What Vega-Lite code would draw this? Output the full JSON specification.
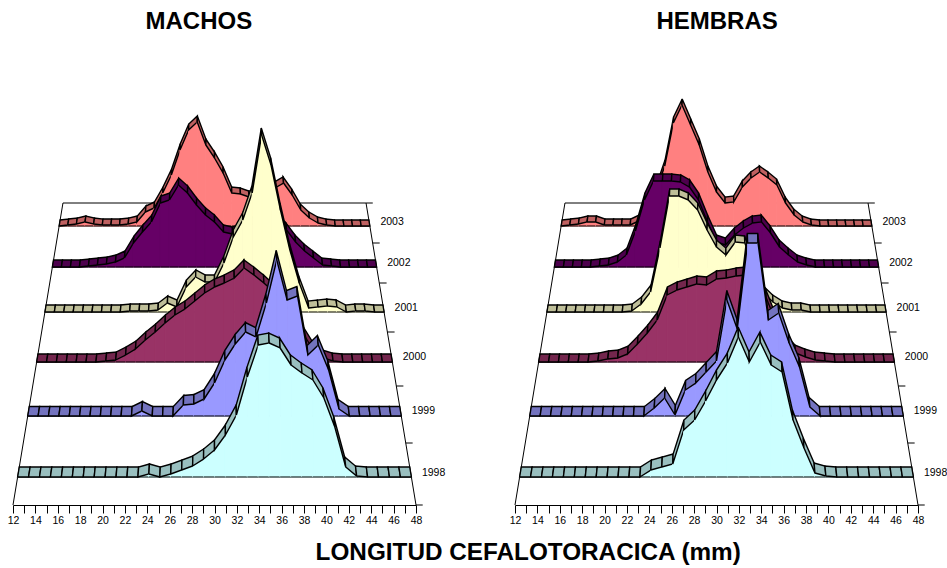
{
"$schema":"https://vega.github.io/schema/vega-lite/v6.json",
"background":"white",
"padding":{"left":7,"top":9,"right":0,"bottom":4},
"bounds":"flush",
"title":{"text":"LONGITUD CEFALOTORACICA (mm)","orient":"bottom","anchor":"middle","font":"Liberation Sans","fontSize":24.3,"fontWeight":"bold","color":"black","offset":15,"dx":51},
"config":{"axisX":{"labelOverlap":false,"labelBound":false},"header":{"labels":false,"title":null}},
"data":{"values":[
{"sexo":"MACHOS","anio":2003,"talla":12,"alto":0},{"sexo":"MACHOS","anio":2003,"talla":13,"alto":1},{"sexo":"MACHOS","anio":2003,"talla":14,"alto":2},{"sexo":"MACHOS","anio":2003,"talla":15,"alto":4},{"sexo":"MACHOS","anio":2003,"talla":16,"alto":2},{"sexo":"MACHOS","anio":2003,"talla":17,"alto":1},{"sexo":"MACHOS","anio":2003,"talla":18,"alto":1},{"sexo":"MACHOS","anio":2003,"talla":19,"alto":1},{"sexo":"MACHOS","anio":2003,"talla":20,"alto":2},{"sexo":"MACHOS","anio":2003,"talla":21,"alto":4},{"sexo":"MACHOS","anio":2003,"talla":22,"alto":14},{"sexo":"MACHOS","anio":2003,"talla":23,"alto":18},{"sexo":"MACHOS","anio":2003,"talla":24,"alto":33},{"sexo":"MACHOS","anio":2003,"talla":25,"alto":51},{"sexo":"MACHOS","anio":2003,"talla":26,"alto":76},{"sexo":"MACHOS","anio":2003,"talla":27,"alto":96},{"sexo":"MACHOS","anio":2003,"talla":28,"alto":104},{"sexo":"MACHOS","anio":2003,"talla":29,"alto":81},{"sexo":"MACHOS","anio":2003,"talla":30,"alto":68},{"sexo":"MACHOS","anio":2003,"talla":31,"alto":53},{"sexo":"MACHOS","anio":2003,"talla":32,"alto":33},{"sexo":"MACHOS","anio":2003,"talla":33,"alto":32},{"sexo":"MACHOS","anio":2003,"talla":34,"alto":29},{"sexo":"MACHOS","anio":2003,"talla":35,"alto":30},{"sexo":"MACHOS","anio":2003,"talla":36,"alto":33},{"sexo":"MACHOS","anio":2003,"talla":37,"alto":38},{"sexo":"MACHOS","anio":2003,"talla":38,"alto":43},{"sexo":"MACHOS","anio":2003,"talla":39,"alto":31},{"sexo":"MACHOS","anio":2003,"talla":40,"alto":16},{"sexo":"MACHOS","anio":2003,"talla":41,"alto":8},{"sexo":"MACHOS","anio":2003,"talla":42,"alto":3},{"sexo":"MACHOS","anio":2003,"talla":43,"alto":1},{"sexo":"MACHOS","anio":2003,"talla":44,"alto":0},{"sexo":"MACHOS","anio":2003,"talla":45,"alto":0},{"sexo":"MACHOS","anio":2003,"talla":46,"alto":0},{"sexo":"MACHOS","anio":2003,"talla":47,"alto":0},{"sexo":"MACHOS","anio":2003,"talla":48,"alto":0},
{"sexo":"MACHOS","anio":2002,"talla":12,"alto":0},{"sexo":"MACHOS","anio":2002,"talla":13,"alto":0},{"sexo":"MACHOS","anio":2002,"talla":14,"alto":0},{"sexo":"MACHOS","anio":2002,"talla":15,"alto":0},{"sexo":"MACHOS","anio":2002,"talla":16,"alto":1},{"sexo":"MACHOS","anio":2002,"talla":17,"alto":2},{"sexo":"MACHOS","anio":2002,"talla":18,"alto":3},{"sexo":"MACHOS","anio":2002,"talla":19,"alto":5},{"sexo":"MACHOS","anio":2002,"talla":20,"alto":9},{"sexo":"MACHOS","anio":2002,"talla":21,"alto":24},{"sexo":"MACHOS","anio":2002,"talla":22,"alto":35},{"sexo":"MACHOS","anio":2002,"talla":23,"alto":45},{"sexo":"MACHOS","anio":2002,"talla":24,"alto":64},{"sexo":"MACHOS","anio":2002,"talla":25,"alto":67},{"sexo":"MACHOS","anio":2002,"talla":26,"alto":82},{"sexo":"MACHOS","anio":2002,"talla":27,"alto":74},{"sexo":"MACHOS","anio":2002,"talla":28,"alto":62},{"sexo":"MACHOS","anio":2002,"talla":29,"alto":52},{"sexo":"MACHOS","anio":2002,"talla":30,"alto":45},{"sexo":"MACHOS","anio":2002,"talla":31,"alto":35},{"sexo":"MACHOS","anio":2002,"talla":32,"alto":33},{"sexo":"MACHOS","anio":2002,"talla":33,"alto":36},{"sexo":"MACHOS","anio":2002,"talla":34,"alto":42},{"sexo":"MACHOS","anio":2002,"talla":35,"alto":46},{"sexo":"MACHOS","anio":2002,"talla":36,"alto":50},{"sexo":"MACHOS","anio":2002,"talla":37,"alto":46},{"sexo":"MACHOS","anio":2002,"talla":38,"alto":37},{"sexo":"MACHOS","anio":2002,"talla":39,"alto":25},{"sexo":"MACHOS","anio":2002,"talla":40,"alto":16},{"sexo":"MACHOS","anio":2002,"talla":41,"alto":9},{"sexo":"MACHOS","anio":2002,"talla":42,"alto":2},{"sexo":"MACHOS","anio":2002,"talla":43,"alto":1},{"sexo":"MACHOS","anio":2002,"talla":44,"alto":0},{"sexo":"MACHOS","anio":2002,"talla":45,"alto":0},{"sexo":"MACHOS","anio":2002,"talla":46,"alto":0},{"sexo":"MACHOS","anio":2002,"talla":47,"alto":0},{"sexo":"MACHOS","anio":2002,"talla":48,"alto":0},
{"sexo":"MACHOS","anio":2001,"talla":12,"alto":0},{"sexo":"MACHOS","anio":2001,"talla":13,"alto":0},{"sexo":"MACHOS","anio":2001,"talla":14,"alto":0},{"sexo":"MACHOS","anio":2001,"talla":15,"alto":0},{"sexo":"MACHOS","anio":2001,"talla":16,"alto":0},{"sexo":"MACHOS","anio":2001,"talla":17,"alto":0},{"sexo":"MACHOS","anio":2001,"talla":18,"alto":0},{"sexo":"MACHOS","anio":2001,"talla":19,"alto":0},{"sexo":"MACHOS","anio":2001,"talla":20,"alto":0},{"sexo":"MACHOS","anio":2001,"talla":21,"alto":1},{"sexo":"MACHOS","anio":2001,"talla":22,"alto":1},{"sexo":"MACHOS","anio":2001,"talla":23,"alto":1},{"sexo":"MACHOS","anio":2001,"talla":24,"alto":2},{"sexo":"MACHOS","anio":2001,"talla":25,"alto":9},{"sexo":"MACHOS","anio":2001,"talla":26,"alto":5},{"sexo":"MACHOS","anio":2001,"talla":27,"alto":25},{"sexo":"MACHOS","anio":2001,"talla":28,"alto":35},{"sexo":"MACHOS","anio":2001,"talla":29,"alto":30},{"sexo":"MACHOS","anio":2001,"talla":30,"alto":30},{"sexo":"MACHOS","anio":2001,"talla":31,"alto":49},{"sexo":"MACHOS","anio":2001,"talla":32,"alto":75},{"sexo":"MACHOS","anio":2001,"talla":33,"alto":92},{"sexo":"MACHOS","anio":2001,"talla":34,"alto":119},{"sexo":"MACHOS","anio":2001,"talla":35,"alto":177},{"sexo":"MACHOS","anio":2001,"talla":36,"alto":147},{"sexo":"MACHOS","anio":2001,"talla":37,"alto":102},{"sexo":"MACHOS","anio":2001,"talla":38,"alto":62},{"sexo":"MACHOS","anio":2001,"talla":39,"alto":29},{"sexo":"MACHOS","anio":2001,"talla":40,"alto":4},{"sexo":"MACHOS","anio":2001,"talla":41,"alto":5},{"sexo":"MACHOS","anio":2001,"talla":42,"alto":6},{"sexo":"MACHOS","anio":2001,"talla":43,"alto":5},{"sexo":"MACHOS","anio":2001,"talla":44,"alto":0},{"sexo":"MACHOS","anio":2001,"talla":45,"alto":1},{"sexo":"MACHOS","anio":2001,"talla":46,"alto":1},{"sexo":"MACHOS","anio":2001,"talla":47,"alto":0},{"sexo":"MACHOS","anio":2001,"talla":48,"alto":0},
{"sexo":"MACHOS","anio":2000,"talla":12,"alto":0},{"sexo":"MACHOS","anio":2000,"talla":13,"alto":0},{"sexo":"MACHOS","anio":2000,"talla":14,"alto":0},{"sexo":"MACHOS","anio":2000,"talla":15,"alto":0},{"sexo":"MACHOS","anio":2000,"talla":16,"alto":0},{"sexo":"MACHOS","anio":2000,"talla":17,"alto":0},{"sexo":"MACHOS","anio":2000,"talla":18,"alto":0},{"sexo":"MACHOS","anio":2000,"talla":19,"alto":1},{"sexo":"MACHOS","anio":2000,"talla":20,"alto":2},{"sexo":"MACHOS","anio":2000,"talla":21,"alto":7},{"sexo":"MACHOS","anio":2000,"talla":22,"alto":13},{"sexo":"MACHOS","anio":2000,"talla":23,"alto":22},{"sexo":"MACHOS","anio":2000,"talla":24,"alto":30},{"sexo":"MACHOS","anio":2000,"talla":25,"alto":39},{"sexo":"MACHOS","anio":2000,"talla":26,"alto":47},{"sexo":"MACHOS","anio":2000,"talla":27,"alto":53},{"sexo":"MACHOS","anio":2000,"talla":28,"alto":61},{"sexo":"MACHOS","anio":2000,"talla":29,"alto":69},{"sexo":"MACHOS","anio":2000,"talla":30,"alto":75},{"sexo":"MACHOS","anio":2000,"talla":31,"alto":79},{"sexo":"MACHOS","anio":2000,"talla":32,"alto":84},{"sexo":"MACHOS","anio":2000,"talla":33,"alto":94},{"sexo":"MACHOS","anio":2000,"talla":34,"alto":87},{"sexo":"MACHOS","anio":2000,"talla":35,"alto":79},{"sexo":"MACHOS","anio":2000,"talla":36,"alto":70},{"sexo":"MACHOS","anio":2000,"talla":37,"alto":60},{"sexo":"MACHOS","anio":2000,"talla":38,"alto":45},{"sexo":"MACHOS","anio":2000,"talla":39,"alto":28},{"sexo":"MACHOS","anio":2000,"talla":40,"alto":12},{"sexo":"MACHOS","anio":2000,"talla":41,"alto":4},{"sexo":"MACHOS","anio":2000,"talla":42,"alto":1},{"sexo":"MACHOS","anio":2000,"talla":43,"alto":0},{"sexo":"MACHOS","anio":2000,"talla":44,"alto":0},{"sexo":"MACHOS","anio":2000,"talla":45,"alto":0},{"sexo":"MACHOS","anio":2000,"talla":46,"alto":0},{"sexo":"MACHOS","anio":2000,"talla":47,"alto":0},{"sexo":"MACHOS","anio":2000,"talla":48,"alto":0},
{"sexo":"MACHOS","anio":1999,"talla":12,"alto":0},{"sexo":"MACHOS","anio":1999,"talla":13,"alto":0},{"sexo":"MACHOS","anio":1999,"talla":14,"alto":0},{"sexo":"MACHOS","anio":1999,"talla":15,"alto":0},{"sexo":"MACHOS","anio":1999,"talla":16,"alto":0},{"sexo":"MACHOS","anio":1999,"talla":17,"alto":0},{"sexo":"MACHOS","anio":1999,"talla":18,"alto":0},{"sexo":"MACHOS","anio":1999,"talla":19,"alto":0},{"sexo":"MACHOS","anio":1999,"talla":20,"alto":0},{"sexo":"MACHOS","anio":1999,"talla":21,"alto":0},{"sexo":"MACHOS","anio":1999,"talla":22,"alto":0},{"sexo":"MACHOS","anio":1999,"talla":23,"alto":5},{"sexo":"MACHOS","anio":1999,"talla":24,"alto":0},{"sexo":"MACHOS","anio":1999,"talla":25,"alto":0},{"sexo":"MACHOS","anio":1999,"talla":26,"alto":0},{"sexo":"MACHOS","anio":1999,"talla":27,"alto":11},{"sexo":"MACHOS","anio":1999,"talla":28,"alto":12},{"sexo":"MACHOS","anio":1999,"talla":29,"alto":17},{"sexo":"MACHOS","anio":1999,"talla":30,"alto":33},{"sexo":"MACHOS","anio":1999,"talla":31,"alto":56},{"sexo":"MACHOS","anio":1999,"talla":32,"alto":72},{"sexo":"MACHOS","anio":1999,"talla":33,"alto":84},{"sexo":"MACHOS","anio":1999,"talla":34,"alto":79},{"sexo":"MACHOS","anio":1999,"talla":35,"alto":113},{"sexo":"MACHOS","anio":1999,"talla":36,"alto":156},{"sexo":"MACHOS","anio":1999,"talla":37,"alto":116},{"sexo":"MACHOS","anio":1999,"talla":38,"alto":120},{"sexo":"MACHOS","anio":1999,"talla":39,"alto":61},{"sexo":"MACHOS","anio":1999,"talla":40,"alto":71},{"sexo":"MACHOS","anio":1999,"talla":41,"alto":46},{"sexo":"MACHOS","anio":1999,"talla":42,"alto":7},{"sexo":"MACHOS","anio":1999,"talla":43,"alto":0},{"sexo":"MACHOS","anio":1999,"talla":44,"alto":0},{"sexo":"MACHOS","anio":1999,"talla":45,"alto":0},{"sexo":"MACHOS","anio":1999,"talla":46,"alto":0},{"sexo":"MACHOS","anio":1999,"talla":47,"alto":0},{"sexo":"MACHOS","anio":1999,"talla":48,"alto":0},
{"sexo":"MACHOS","anio":1998,"talla":12,"alto":0},{"sexo":"MACHOS","anio":1998,"talla":13,"alto":0},{"sexo":"MACHOS","anio":1998,"talla":14,"alto":0},{"sexo":"MACHOS","anio":1998,"talla":15,"alto":0},{"sexo":"MACHOS","anio":1998,"talla":16,"alto":0},{"sexo":"MACHOS","anio":1998,"talla":17,"alto":0},{"sexo":"MACHOS","anio":1998,"talla":18,"alto":0},{"sexo":"MACHOS","anio":1998,"talla":19,"alto":0},{"sexo":"MACHOS","anio":1998,"talla":20,"alto":0},{"sexo":"MACHOS","anio":1998,"talla":21,"alto":0},{"sexo":"MACHOS","anio":1998,"talla":22,"alto":0},{"sexo":"MACHOS","anio":1998,"talla":23,"alto":0},{"sexo":"MACHOS","anio":1998,"talla":24,"alto":3},{"sexo":"MACHOS","anio":1998,"talla":25,"alto":0},{"sexo":"MACHOS","anio":1998,"talla":26,"alto":3},{"sexo":"MACHOS","anio":1998,"talla":27,"alto":7},{"sexo":"MACHOS","anio":1998,"talla":28,"alto":11},{"sexo":"MACHOS","anio":1998,"talla":29,"alto":18},{"sexo":"MACHOS","anio":1998,"talla":30,"alto":27},{"sexo":"MACHOS","anio":1998,"talla":31,"alto":42},{"sexo":"MACHOS","anio":1998,"talla":32,"alto":62},{"sexo":"MACHOS","anio":1998,"talla":33,"alto":100},{"sexo":"MACHOS","anio":1998,"talla":34,"alto":132},{"sexo":"MACHOS","anio":1998,"talla":35,"alto":134},{"sexo":"MACHOS","anio":1998,"talla":36,"alto":129},{"sexo":"MACHOS","anio":1998,"talla":37,"alto":112},{"sexo":"MACHOS","anio":1998,"talla":38,"alto":104},{"sexo":"MACHOS","anio":1998,"talla":39,"alto":97},{"sexo":"MACHOS","anio":1998,"talla":40,"alto":79},{"sexo":"MACHOS","anio":1998,"talla":41,"alto":50},{"sexo":"MACHOS","anio":1998,"talla":42,"alto":10},{"sexo":"MACHOS","anio":1998,"talla":43,"alto":1},{"sexo":"MACHOS","anio":1998,"talla":44,"alto":0},{"sexo":"MACHOS","anio":1998,"talla":45,"alto":0},{"sexo":"MACHOS","anio":1998,"talla":46,"alto":0},{"sexo":"MACHOS","anio":1998,"talla":47,"alto":0},{"sexo":"MACHOS","anio":1998,"talla":48,"alto":0},
{"sexo":"HEMBRAS","anio":2003,"talla":12,"alto":0},{"sexo":"HEMBRAS","anio":2003,"talla":13,"alto":1},{"sexo":"HEMBRAS","anio":2003,"talla":14,"alto":2},{"sexo":"HEMBRAS","anio":2003,"talla":15,"alto":4},{"sexo":"HEMBRAS","anio":2003,"talla":16,"alto":4},{"sexo":"HEMBRAS","anio":2003,"talla":17,"alto":1},{"sexo":"HEMBRAS","anio":2003,"talla":18,"alto":1},{"sexo":"HEMBRAS","anio":2003,"talla":19,"alto":1},{"sexo":"HEMBRAS","anio":2003,"talla":20,"alto":1},{"sexo":"HEMBRAS","anio":2003,"talla":21,"alto":5},{"sexo":"HEMBRAS","anio":2003,"talla":22,"alto":14},{"sexo":"HEMBRAS","anio":2003,"talla":23,"alto":35},{"sexo":"HEMBRAS","anio":2003,"talla":24,"alto":60},{"sexo":"HEMBRAS","anio":2003,"talla":25,"alto":103},{"sexo":"HEMBRAS","anio":2003,"talla":26,"alto":121},{"sexo":"HEMBRAS","anio":2003,"talla":27,"alto":101},{"sexo":"HEMBRAS","anio":2003,"talla":28,"alto":81},{"sexo":"HEMBRAS","anio":2003,"talla":29,"alto":54},{"sexo":"HEMBRAS","anio":2003,"talla":30,"alto":34},{"sexo":"HEMBRAS","anio":2003,"talla":31,"alto":23},{"sexo":"HEMBRAS","anio":2003,"talla":32,"alto":24},{"sexo":"HEMBRAS","anio":2003,"talla":33,"alto":39},{"sexo":"HEMBRAS","anio":2003,"talla":34,"alto":48},{"sexo":"HEMBRAS","anio":2003,"talla":35,"alto":54},{"sexo":"HEMBRAS","anio":2003,"talla":36,"alto":48},{"sexo":"HEMBRAS","anio":2003,"talla":37,"alto":41},{"sexo":"HEMBRAS","anio":2003,"talla":38,"alto":23},{"sexo":"HEMBRAS","anio":2003,"talla":39,"alto":11},{"sexo":"HEMBRAS","anio":2003,"talla":40,"alto":4},{"sexo":"HEMBRAS","anio":2003,"talla":41,"alto":1},{"sexo":"HEMBRAS","anio":2003,"talla":42,"alto":0},{"sexo":"HEMBRAS","anio":2003,"talla":43,"alto":0},{"sexo":"HEMBRAS","anio":2003,"talla":44,"alto":0},{"sexo":"HEMBRAS","anio":2003,"talla":45,"alto":0},{"sexo":"HEMBRAS","anio":2003,"talla":46,"alto":0},{"sexo":"HEMBRAS","anio":2003,"talla":47,"alto":0},{"sexo":"HEMBRAS","anio":2003,"talla":48,"alto":0},
{"sexo":"HEMBRAS","anio":2002,"talla":12,"alto":0},{"sexo":"HEMBRAS","anio":2002,"talla":13,"alto":0},{"sexo":"HEMBRAS","anio":2002,"talla":14,"alto":0},{"sexo":"HEMBRAS","anio":2002,"talla":15,"alto":0},{"sexo":"HEMBRAS","anio":2002,"talla":16,"alto":0},{"sexo":"HEMBRAS","anio":2002,"talla":17,"alto":1},{"sexo":"HEMBRAS","anio":2002,"talla":18,"alto":2},{"sexo":"HEMBRAS","anio":2002,"talla":19,"alto":5},{"sexo":"HEMBRAS","anio":2002,"talla":20,"alto":12},{"sexo":"HEMBRAS","anio":2002,"talla":21,"alto":36},{"sexo":"HEMBRAS","anio":2002,"talla":22,"alto":67},{"sexo":"HEMBRAS","anio":2002,"talla":23,"alto":86},{"sexo":"HEMBRAS","anio":2002,"talla":24,"alto":86},{"sexo":"HEMBRAS","anio":2002,"talla":25,"alto":86},{"sexo":"HEMBRAS","anio":2002,"talla":26,"alto":85},{"sexo":"HEMBRAS","anio":2002,"talla":27,"alto":80},{"sexo":"HEMBRAS","anio":2002,"talla":28,"alto":67},{"sexo":"HEMBRAS","anio":2002,"talla":29,"alto":45},{"sexo":"HEMBRAS","anio":2002,"talla":30,"alto":25},{"sexo":"HEMBRAS","anio":2002,"talla":31,"alto":22},{"sexo":"HEMBRAS","anio":2002,"talla":32,"alto":32},{"sexo":"HEMBRAS","anio":2002,"talla":33,"alto":39},{"sexo":"HEMBRAS","anio":2002,"talla":34,"alto":44},{"sexo":"HEMBRAS","anio":2002,"talla":35,"alto":45},{"sexo":"HEMBRAS","anio":2002,"talla":36,"alto":34},{"sexo":"HEMBRAS","anio":2002,"talla":37,"alto":20},{"sexo":"HEMBRAS","anio":2002,"talla":38,"alto":12},{"sexo":"HEMBRAS","anio":2002,"talla":39,"alto":5},{"sexo":"HEMBRAS","anio":2002,"talla":40,"alto":2},{"sexo":"HEMBRAS","anio":2002,"talla":41,"alto":0},{"sexo":"HEMBRAS","anio":2002,"talla":42,"alto":0},{"sexo":"HEMBRAS","anio":2002,"talla":43,"alto":0},{"sexo":"HEMBRAS","anio":2002,"talla":44,"alto":0},{"sexo":"HEMBRAS","anio":2002,"talla":45,"alto":0},{"sexo":"HEMBRAS","anio":2002,"talla":46,"alto":0},{"sexo":"HEMBRAS","anio":2002,"talla":47,"alto":0},{"sexo":"HEMBRAS","anio":2002,"talla":48,"alto":0},
{"sexo":"HEMBRAS","anio":2001,"talla":12,"alto":0},{"sexo":"HEMBRAS","anio":2001,"talla":13,"alto":0},{"sexo":"HEMBRAS","anio":2001,"talla":14,"alto":0},{"sexo":"HEMBRAS","anio":2001,"talla":15,"alto":0},{"sexo":"HEMBRAS","anio":2001,"talla":16,"alto":0},{"sexo":"HEMBRAS","anio":2001,"talla":17,"alto":0},{"sexo":"HEMBRAS","anio":2001,"talla":18,"alto":0},{"sexo":"HEMBRAS","anio":2001,"talla":19,"alto":0},{"sexo":"HEMBRAS","anio":2001,"talla":20,"alto":0},{"sexo":"HEMBRAS","anio":2001,"talla":21,"alto":1},{"sexo":"HEMBRAS","anio":2001,"talla":22,"alto":8},{"sexo":"HEMBRAS","anio":2001,"talla":23,"alto":20},{"sexo":"HEMBRAS","anio":2001,"talla":24,"alto":64},{"sexo":"HEMBRAS","anio":2001,"talla":25,"alto":116},{"sexo":"HEMBRAS","anio":2001,"talla":26,"alto":116},{"sexo":"HEMBRAS","anio":2001,"talla":27,"alto":112},{"sexo":"HEMBRAS","anio":2001,"talla":28,"alto":102},{"sexo":"HEMBRAS","anio":2001,"talla":29,"alto":82},{"sexo":"HEMBRAS","anio":2001,"talla":30,"alto":65},{"sexo":"HEMBRAS","anio":2001,"talla":31,"alto":57},{"sexo":"HEMBRAS","anio":2001,"talla":32,"alto":70},{"sexo":"HEMBRAS","anio":2001,"talla":33,"alto":69},{"sexo":"HEMBRAS","anio":2001,"talla":34,"alto":45},{"sexo":"HEMBRAS","anio":2001,"talla":35,"alto":19},{"sexo":"HEMBRAS","anio":2001,"talla":36,"alto":10},{"sexo":"HEMBRAS","anio":2001,"talla":37,"alto":4},{"sexo":"HEMBRAS","anio":2001,"talla":38,"alto":2},{"sexo":"HEMBRAS","anio":2001,"talla":39,"alto":2},{"sexo":"HEMBRAS","anio":2001,"talla":40,"alto":0},{"sexo":"HEMBRAS","anio":2001,"talla":41,"alto":0},{"sexo":"HEMBRAS","anio":2001,"talla":42,"alto":0},{"sexo":"HEMBRAS","anio":2001,"talla":43,"alto":0},{"sexo":"HEMBRAS","anio":2001,"talla":44,"alto":0},{"sexo":"HEMBRAS","anio":2001,"talla":45,"alto":0},{"sexo":"HEMBRAS","anio":2001,"talla":46,"alto":0},{"sexo":"HEMBRAS","anio":2001,"talla":47,"alto":0},{"sexo":"HEMBRAS","anio":2001,"talla":48,"alto":0},
{"sexo":"HEMBRAS","anio":2000,"talla":12,"alto":0},{"sexo":"HEMBRAS","anio":2000,"talla":13,"alto":0},{"sexo":"HEMBRAS","anio":2000,"talla":14,"alto":0},{"sexo":"HEMBRAS","anio":2000,"talla":15,"alto":0},{"sexo":"HEMBRAS","anio":2000,"talla":16,"alto":0},{"sexo":"HEMBRAS","anio":2000,"talla":17,"alto":0},{"sexo":"HEMBRAS","anio":2000,"talla":18,"alto":1},{"sexo":"HEMBRAS","anio":2000,"talla":19,"alto":3},{"sexo":"HEMBRAS","anio":2000,"talla":20,"alto":4},{"sexo":"HEMBRAS","anio":2000,"talla":21,"alto":8},{"sexo":"HEMBRAS","anio":2000,"talla":22,"alto":18},{"sexo":"HEMBRAS","anio":2000,"talla":23,"alto":29},{"sexo":"HEMBRAS","anio":2000,"talla":24,"alto":42},{"sexo":"HEMBRAS","anio":2000,"talla":25,"alto":67},{"sexo":"HEMBRAS","anio":2000,"talla":26,"alto":72},{"sexo":"HEMBRAS","anio":2000,"talla":27,"alto":75},{"sexo":"HEMBRAS","anio":2000,"talla":28,"alto":78},{"sexo":"HEMBRAS","anio":2000,"talla":29,"alto":77},{"sexo":"HEMBRAS","anio":2000,"talla":30,"alto":83},{"sexo":"HEMBRAS","anio":2000,"talla":31,"alto":84},{"sexo":"HEMBRAS","anio":2000,"talla":32,"alto":86},{"sexo":"HEMBRAS","anio":2000,"talla":33,"alto":87},{"sexo":"HEMBRAS","anio":2000,"talla":34,"alto":80},{"sexo":"HEMBRAS","anio":2000,"talla":35,"alto":65},{"sexo":"HEMBRAS","anio":2000,"talla":36,"alto":40},{"sexo":"HEMBRAS","anio":2000,"talla":37,"alto":20},{"sexo":"HEMBRAS","anio":2000,"talla":38,"alto":9},{"sexo":"HEMBRAS","anio":2000,"talla":39,"alto":5},{"sexo":"HEMBRAS","anio":2000,"talla":40,"alto":2},{"sexo":"HEMBRAS","anio":2000,"talla":41,"alto":1},{"sexo":"HEMBRAS","anio":2000,"talla":42,"alto":0},{"sexo":"HEMBRAS","anio":2000,"talla":43,"alto":0},{"sexo":"HEMBRAS","anio":2000,"talla":44,"alto":0},{"sexo":"HEMBRAS","anio":2000,"talla":45,"alto":0},{"sexo":"HEMBRAS","anio":2000,"talla":46,"alto":0},{"sexo":"HEMBRAS","anio":2000,"talla":47,"alto":0},{"sexo":"HEMBRAS","anio":2000,"talla":48,"alto":0},
{"sexo":"HEMBRAS","anio":1999,"talla":12,"alto":0},{"sexo":"HEMBRAS","anio":1999,"talla":13,"alto":0},{"sexo":"HEMBRAS","anio":1999,"talla":14,"alto":0},{"sexo":"HEMBRAS","anio":1999,"talla":15,"alto":0},{"sexo":"HEMBRAS","anio":1999,"talla":16,"alto":0},{"sexo":"HEMBRAS","anio":1999,"talla":17,"alto":0},{"sexo":"HEMBRAS","anio":1999,"talla":18,"alto":0},{"sexo":"HEMBRAS","anio":1999,"talla":19,"alto":0},{"sexo":"HEMBRAS","anio":1999,"talla":20,"alto":0},{"sexo":"HEMBRAS","anio":1999,"talla":21,"alto":0},{"sexo":"HEMBRAS","anio":1999,"talla":22,"alto":0},{"sexo":"HEMBRAS","anio":1999,"talla":23,"alto":0},{"sexo":"HEMBRAS","anio":1999,"talla":24,"alto":8},{"sexo":"HEMBRAS","anio":1999,"talla":25,"alto":18},{"sexo":"HEMBRAS","anio":1999,"talla":26,"alto":1},{"sexo":"HEMBRAS","anio":1999,"talla":27,"alto":26},{"sexo":"HEMBRAS","anio":1999,"talla":28,"alto":33},{"sexo":"HEMBRAS","anio":1999,"talla":29,"alto":44},{"sexo":"HEMBRAS","anio":1999,"talla":30,"alto":55},{"sexo":"HEMBRAS","anio":1999,"talla":31,"alto":116},{"sexo":"HEMBRAS","anio":1999,"talla":32,"alto":87},{"sexo":"HEMBRAS","anio":1999,"talla":33,"alto":173},{"sexo":"HEMBRAS","anio":1999,"talla":34,"alto":173},{"sexo":"HEMBRAS","anio":1999,"talla":35,"alto":96},{"sexo":"HEMBRAS","anio":1999,"talla":36,"alto":103},{"sexo":"HEMBRAS","anio":1999,"talla":37,"alto":73},{"sexo":"HEMBRAS","anio":1999,"talla":38,"alto":49},{"sexo":"HEMBRAS","anio":1999,"talla":39,"alto":9},{"sexo":"HEMBRAS","anio":1999,"talla":40,"alto":0},{"sexo":"HEMBRAS","anio":1999,"talla":41,"alto":0},{"sexo":"HEMBRAS","anio":1999,"talla":42,"alto":0},{"sexo":"HEMBRAS","anio":1999,"talla":43,"alto":0},{"sexo":"HEMBRAS","anio":1999,"talla":44,"alto":0},{"sexo":"HEMBRAS","anio":1999,"talla":45,"alto":0},{"sexo":"HEMBRAS","anio":1999,"talla":46,"alto":0},{"sexo":"HEMBRAS","anio":1999,"talla":47,"alto":0},{"sexo":"HEMBRAS","anio":1999,"talla":48,"alto":0},
{"sexo":"HEMBRAS","anio":1998,"talla":12,"alto":0},{"sexo":"HEMBRAS","anio":1998,"talla":13,"alto":0},{"sexo":"HEMBRAS","anio":1998,"talla":14,"alto":0},{"sexo":"HEMBRAS","anio":1998,"talla":15,"alto":0},{"sexo":"HEMBRAS","anio":1998,"talla":16,"alto":0},{"sexo":"HEMBRAS","anio":1998,"talla":17,"alto":0},{"sexo":"HEMBRAS","anio":1998,"talla":18,"alto":0},{"sexo":"HEMBRAS","anio":1998,"talla":19,"alto":0},{"sexo":"HEMBRAS","anio":1998,"talla":20,"alto":0},{"sexo":"HEMBRAS","anio":1998,"talla":21,"alto":0},{"sexo":"HEMBRAS","anio":1998,"talla":22,"alto":0},{"sexo":"HEMBRAS","anio":1998,"talla":23,"alto":0},{"sexo":"HEMBRAS","anio":1998,"talla":24,"alto":7},{"sexo":"HEMBRAS","anio":1998,"talla":25,"alto":10},{"sexo":"HEMBRAS","anio":1998,"talla":26,"alto":13},{"sexo":"HEMBRAS","anio":1998,"talla":27,"alto":47},{"sexo":"HEMBRAS","anio":1998,"talla":28,"alto":57},{"sexo":"HEMBRAS","anio":1998,"talla":29,"alto":76},{"sexo":"HEMBRAS","anio":1998,"talla":30,"alto":97},{"sexo":"HEMBRAS","anio":1998,"talla":31,"alto":114},{"sexo":"HEMBRAS","anio":1998,"talla":32,"alto":140},{"sexo":"HEMBRAS","anio":1998,"talla":33,"alto":115},{"sexo":"HEMBRAS","anio":1998,"talla":34,"alto":135},{"sexo":"HEMBRAS","anio":1998,"talla":35,"alto":112},{"sexo":"HEMBRAS","anio":1998,"talla":36,"alto":105},{"sexo":"HEMBRAS","anio":1998,"talla":37,"alto":57},{"sexo":"HEMBRAS","anio":1998,"talla":38,"alto":29},{"sexo":"HEMBRAS","anio":1998,"talla":39,"alto":4},{"sexo":"HEMBRAS","anio":1998,"talla":40,"alto":1},{"sexo":"HEMBRAS","anio":1998,"talla":41,"alto":0},{"sexo":"HEMBRAS","anio":1998,"talla":42,"alto":0},{"sexo":"HEMBRAS","anio":1998,"talla":43,"alto":0},{"sexo":"HEMBRAS","anio":1998,"talla":44,"alto":0},{"sexo":"HEMBRAS","anio":1998,"talla":45,"alto":0},{"sexo":"HEMBRAS","anio":1998,"talla":46,"alto":0},{"sexo":"HEMBRAS","anio":1998,"talla":47,"alto":0},{"sexo":"HEMBRAS","anio":1998,"talla":48,"alto":0}
]},
"facet":{"column":{"field":"sexo","type":"nominal","sort":["MACHOS","HEMBRAS"],"header":null}},
"spacing":99,
"resolve":{"scale":{"x":"shared","y":"shared"}},
"spec":{
"width":403,
"height":490,
"view":{"stroke":null},
"layer":[
{
"data":{"values":[
{"t1":12,"p1":0,"t2":12,"p2":302},{"t1":48,"p1":0,"t2":48,"p2":302},{"t1":12,"p1":302,"t2":48.8,"p2":302},
{"t1":48,"p1":0,"t2":48.6,"p2":0},{"t1":48,"p1":62,"t2":48.65,"p2":62},{"t1":48,"p1":119,"t2":48.7,"p2":119},{"t1":48,"p1":173,"t2":48.75,"p2":173},{"t1":48,"p1":222,"t2":48.8,"p2":222},{"t1":48,"p1":262,"t2":48.8,"p2":262}
]},
"transform":[
{"calculate":"30+(datum.t1-30)*(1-datum.p1*0.000821)","as":"x1"},
{"calculate":"30+(datum.t2-30)*(1-datum.p2*0.000821)","as":"x2"}
],
"mark":{"type":"rule","color":"black","strokeWidth":1},
"encoding":{
"x":{"field":"x1","type":"quantitative","scale":{"domain":[12,48],"nice":false,"zero":false},
"axis":{"title":null,"tickCount":40,"values":[12,13,14,15,16,17,18,19,20,21,22,23,24,25,26,27,28,29,30,31,32,33,34,35,36,37,38,39,40,41,42,43,44,45,46,47,48],"labelExpr":"datum.value%2==0?datum.label:''","labelFont":"Liberation Sans","labelFontSize":10.5,"labelColor":"black","labelPadding":2,"labelOverlap":false,"labelFlush":false,"tickColor":"black","tickSize":8,"domainColor":"black","grid":false}},
"x2":{"field":"x2"},
"y":{"field":"p1","type":"quantitative","scale":{"domain":[0,490],"nice":false,"zero":false},"axis":null},
"y2":{"field":"p2"}
}
},
{
"transform":[
{"calculate":"{'1998':28,'1999':89,'2000':143,'2001':193,'2002':238,'2003':279}[datum.anio]","as":"prof"},
{"calculate":"{'1998':10,'1999':9.5,'2000':8,'2001':7,'2002':7,'2003':6}[datum.anio]","as":"fondo"},
{"window":[{"op":"lead","field":"alto","as":"alto2"}],"sort":[{"field":"talla"}],"groupby":["anio"]},
{"filter":"datum.talla<48"},
{"calculate":"['relleno','base','cinta']","as":"parte"},
{"flatten":["parte"]},
{"calculate":"[0,1,2,3]","as":"v"},
{"flatten":["v"]},
{"calculate":"datum.v==1||datum.v==2?datum.talla+1:datum.talla","as":"tv"},
{"calculate":"datum.v==1||datum.v==2?datum.alto2:datum.alto","as":"hv"},
{"calculate":"datum.parte=='cinta'&&datum.v>=2?datum.prof+datum.fondo:datum.prof","as":"pv"},
{"calculate":"30+(datum.tv-30)*(1-datum.pv*0.000821)","as":"xv"},
{"calculate":"datum.parte=='base'?datum.prof:datum.parte=='relleno'?(datum.v<2?datum.prof:datum.prof+datum.hv):datum.pv+datum.hv","as":"yv"},
{"calculate":"datum.anio+'-'+datum.parte","as":"clave"},
{"calculate":"datum.anio+'-'+datum.talla+'-'+datum.parte","as":"poligono"}
],
"mark":{"type":"line","interpolate":"linear-closed","clip":false},
"encoding":{
"x":{"field":"xv","type":"quantitative"},
"y":{"field":"yv","type":"quantitative"},
"detail":{"field":"poligono"},
"order":{"field":"v"},
"fill":{"field":"clave","type":"nominal","legend":null,"scale":{
"domain":["1998-relleno","1998-base","1998-cinta","1999-relleno","1999-base","1999-cinta","2000-relleno","2000-base","2000-cinta","2001-relleno","2001-base","2001-cinta","2002-relleno","2002-base","2002-cinta","2003-relleno","2003-base","2003-cinta"],
"range":["#CCFFFF","#000000","#99BFBF","#9999FF","#000000","#7373BF","#993366","#000000","#73264D","#FFFFCC","#000000","#BFBF99","#660066","#000000","#4D004D","#FF8080","#000000","#BF6060"]}},
"stroke":{"field":"clave","type":"nominal","legend":null,"scale":{
"domain":["1998-relleno","1999-relleno","2000-relleno","2001-relleno","2002-relleno","2003-relleno","1998-base","1998-cinta","1999-base","1999-cinta","2000-base","2000-cinta","2001-base","2001-cinta","2002-base","2002-cinta","2003-base","2003-cinta"],
"range":["#CCFFFF","#9999FF","#993366","#FFFFCC","#660066","#FF8080","#000000","#000000","#000000","#000000","#000000","#000000","#000000","#000000","#000000","#000000","#000000","#000000"]}},
"strokeWidth":{"field":"parte","type":"ordinal","legend":null,"scale":{"domain":["relleno","base","cinta"],"range":[1,1.4,1.3]}}
}
},
{
"data":{"values":[{"anio":1998,"prof":32},{"anio":1999,"prof":94},{"anio":2000,"prof":148},{"anio":2001,"prof":197},{"anio":2002,"prof":242},{"anio":2003,"prof":283}]},
"transform":[{"calculate":"30+18*(1-datum.prof*0.000821)+1","as":"xt"}],
"mark":{"type":"text","align":"left","baseline":"middle","font":"Liberation Sans","fontSize":10.5,"color":"black"},
"encoding":{
"x":{"field":"xt","type":"quantitative"},
"y":{"field":"prof","type":"quantitative"},
"text":{"field":"anio"}
}
},
{
"transform":[
{"filter":"datum.anio==1998&&datum.talla==12"},
{"calculate":"datum.sexo=='MACHOS'?28.6:30.05","as":"xc"},
{"calculate":"483","as":"yc"}
],
"mark":{"type":"text","align":"center","baseline":"middle","font":"Liberation Sans","fontSize":24,"fontWeight":"bold","color":"black"},
"encoding":{
"x":{"field":"xc","type":"quantitative"},
"y":{"field":"yc","type":"quantitative"},
"text":{"field":"sexo"}
}
}
]
}
}
